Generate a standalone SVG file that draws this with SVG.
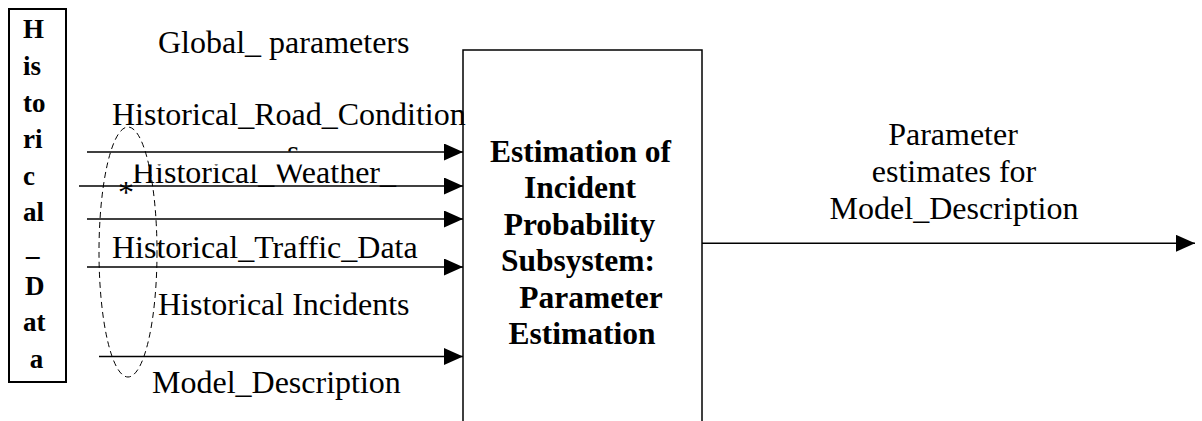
<svg xmlns="http://www.w3.org/2000/svg" width="1202" height="421" viewBox="0 0 1202 421">
<style>
text{font-family:'Liberation Serif','Times New Roman',Times,serif;fill:#000}
.t{font-size:32px}
.b{font-size:31.5px;font-weight:bold}
.v{font-size:27px;font-weight:bold}
.ln{stroke:#000;stroke-width:1.5;fill:none}
.box{fill:#fff;stroke:#000}
</style>
<defs>
<marker id="ah" markerUnits="userSpaceOnUse" markerWidth="20" markerHeight="18" refX="19" refY="8.5" orient="auto">
<path d="M0,0 L19,8.5 L0,17 z" fill="#000"/>
</marker>
<clipPath id="cs"><rect x="270" y="130" width="40" height="21.5"/></clipPath>
<clipPath id="cw"><rect x="100" y="164.5" width="320" height="30"/></clipPath>
</defs>

<g id="historical-data">
<rect class="box" x="9" y="9" width="57" height="373" stroke-width="2"/>
<text class="v" x="23" y="38.3">H</text>
<text class="v" x="23" y="74.9">is</text>
<text class="v" x="23" y="111.5">to</text>
<text class="v" x="23" y="148.1">ri</text>
<text class="v" x="23" y="184.7">c</text>
<text class="v" x="23" y="221.3">al</text>
<text class="v" x="26" y="255">_</text>
<text class="v" x="25" y="294.5">D</text>
<text class="v" x="23" y="331.1">at</text>
<text class="v" x="29.7" y="367.7">a</text>
</g>

<g id="estimation">
<rect class="box" x="463" y="50" width="239" height="400" stroke-width="1.5"/>
<text class="b" text-anchor="middle" x="580.5" y="161.7">Estimation of</text>
<text class="b" text-anchor="middle" x="580" y="198.2">Incident</text>
<text class="b" text-anchor="middle" x="579.5" y="234.7">Probability</text>
<text class="b" text-anchor="middle" x="578" y="271.2">Subsystem:</text>
<text class="b" text-anchor="middle" x="591" y="307.7">Parameter</text>
<text class="b" text-anchor="middle" x="582" y="344.2">Estimation</text>
</g>

<g id="group-ellipse">
<ellipse cx="128" cy="252" rx="29" ry="125" fill="none" stroke="#000" stroke-width="1" stroke-dasharray="6,4"/>
</g>

<g id="connectors">
<line class="ln" x1="87" y1="152" x2="463" y2="152" marker-end="url(#ah)"/>
<line class="ln" x1="79" y1="186" x2="463" y2="186" marker-end="url(#ah)"/>
<line class="ln" x1="87" y1="219" x2="463" y2="219" marker-end="url(#ah)"/>
<line class="ln" x1="87" y1="267" x2="463" y2="267" marker-end="url(#ah)"/>
<line class="ln" x1="99" y1="356.5" x2="463" y2="356.5" marker-end="url(#ah)"/>
<line class="ln" x1="702" y1="243.3" x2="1195" y2="243.3" marker-end="url(#ah)"/>
</g>

<g id="labels">
<text class="t" x="158" y="53.3">Global_ parameters</text>
<text class="t" x="112" y="125">Historical_Road_Condition</text>
<text class="t" x="287" y="161.6" clip-path="url(#cs)">s</text>
<text class="t" x="132" y="183" clip-path="url(#cw)">Historical_Weather_</text>
<text class="t" x="118" y="203">*</text>
<text class="t" x="112" y="258">Historical_Traffic_Data</text>
<text class="t" x="158" y="315">Historical Incidents</text>
<text class="t" x="152" y="393">Model_Description</text>
<text class="t" text-anchor="middle" x="953" y="145">Parameter</text>
<text class="t" text-anchor="middle" x="954" y="182">estimates for</text>
<text class="t" text-anchor="middle" x="954" y="219">Model_Description</text>
</g>
</svg>
